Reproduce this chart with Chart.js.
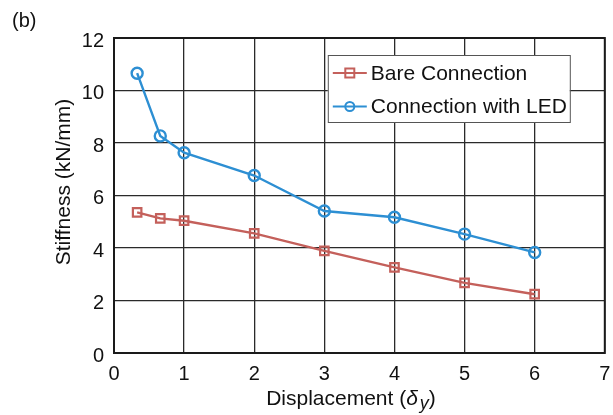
<!DOCTYPE html>
<html>
<head>
<meta charset="utf-8">
<script src="https://cdn.jsdelivr.net/npm/chart.js@4/dist/chart.umd.min.js"></script>
<style>
  html, body { margin: 0; padding: 0; background: #fff; }
  #wrap { width: 613px; height: 415px; position: relative; }
</style>
</head>
<body>
<div id="wrap"><canvas id="c" width="613" height="415"></canvas></div>
<script>
const displacement = [0.33, 0.66, 1.0, 2.0, 3.0, 4.0, 5.0, 6.0];
const bareConnection = [5.36, 5.13, 5.04, 4.56, 3.89, 3.26, 2.67, 2.24];
const connectionWithLED = [10.66, 8.27, 7.63, 6.76, 5.41, 5.17, 4.53, 3.83];
const seriesNames = ['Bare Connection', 'Connection with LED'];
const xTicks = [0, 1, 2, 3, 4, 5, 6, 7];
const yTicks = [0, 2, 4, 6, 8, 10, 12];

const RED = '#c4605b';
const BLUE = '#2d8fd3';
const FONT = '"Liberation Sans", Arial, Helvetica, sans-serif';
const FS = 20;
const FT = 21;

function pts(xs, ys) { return xs.map((x, i) => ({ x: x, y: ys[i] })); }

const extras = {
  id: 'extras',
  afterDraw(chart) {
    const ctx = chart.ctx;
    const a = chart.chartArea;
    ctx.save();
    // frame
    ctx.strokeStyle = '#1a1a1a';
    ctx.lineWidth = 2;
    ctx.strokeRect(a.left, a.top, a.right - a.left, a.bottom - a.top);

    // legend
    const lx = a.right - 277, ly = a.top + 17, lw = 242, lh = 67;
    ctx.fillStyle = '#fff';
    ctx.fillRect(lx, ly, lw, lh);
    ctx.strokeStyle = '#555';
    ctx.lineWidth = 1;
    ctx.strokeRect(lx + 0.5, ly + 0.5, lw, lh);
    const rows = [
      { name: seriesNames[0], color: RED, style: 'rect' },
      { name: seriesNames[1], color: BLUE, style: 'circle' }
    ];
    rows.forEach((r, i) => {
      const cy = ly + 18 + i * 33.5;
      ctx.strokeStyle = r.color;
      ctx.lineWidth = 2.2;
      ctx.beginPath();
      ctx.moveTo(lx + 5, cy);
      ctx.lineTo(lx + 39, cy);
      ctx.stroke();
      ctx.lineWidth = 2;
      const mx = lx + 22;
      if (r.style === 'rect') {
        ctx.strokeRect(mx - 4.5, cy - 4.5, 9, 9);
      } else {
        ctx.beginPath();
        ctx.arc(mx, cy, 4.5, 0, Math.PI * 2);
        ctx.stroke();
      }
      ctx.fillStyle = '#111';
      ctx.font = FT + 'px ' + FONT;
      ctx.textAlign = 'left';
      ctx.textBaseline = 'middle';
      ctx.fillText(r.name, lx + 43, cy + 1);
    });

    // panel label
    ctx.fillStyle = '#111';
    ctx.font = FS + 'px ' + FONT;
    ctx.textAlign = 'left';
    ctx.textBaseline = 'middle';
    ctx.fillText('(b)', 12, 21);

    // y title
    ctx.save();
    ctx.font = FT + 'px ' + FONT;
    ctx.translate(64, 182);
    ctx.rotate(-Math.PI / 2);
    ctx.textAlign = 'center';
    ctx.textBaseline = 'middle';
    ctx.fillText('Stiffness (kN/mm)', 0, 0);
    ctx.restore();

    // x title with italic delta and subscript y
    const base = 405;
    const p1 = 'Displacement (';
    const p2 = '\u03b4';
    const p3 = 'y';
    const p4 = ')';
    ctx.textBaseline = 'alphabetic';
    ctx.font = FT + 'px ' + FONT;
    const w1 = ctx.measureText(p1).width;
    const w4 = ctx.measureText(p4).width;
    ctx.font = 'italic ' + FT + 'px ' + FONT;
    const w2 = ctx.measureText(p2).width;
    ctx.font = 'italic 18px ' + FONT;
    const w3 = ctx.measureText(p3).width;
    const total = w1 + w2 + 2 + w3 + w4;
    let x = 351 - total / 2;
    ctx.textAlign = 'left';
    ctx.font = FT + 'px ' + FONT;
    ctx.fillText(p1, x, base); x += w1;
    ctx.font = 'italic ' + FT + 'px ' + FONT;
    ctx.fillText(p2, x, base); x += w2 + 2;
    ctx.font = 'italic 18px ' + FONT;
    ctx.fillText(p3, x, base + 4); x += w3;
    ctx.font = FT + 'px ' + FONT;
    ctx.fillText(p4, x, base);
    ctx.restore();
  }
};

new Chart(document.getElementById('c'), {
  type: 'scatter',
  data: {
    datasets: [
      {
        label: seriesNames[0],
        data: pts(displacement, bareConnection),
        showLine: true,
        borderColor: RED,
        backgroundColor: 'rgba(0,0,0,0)',
        borderWidth: 2.4,
        pointStyle: 'rect',
        pointRadius: 6,
        pointBorderWidth: 2.2,
        pointBorderColor: RED,
        pointBackgroundColor: 'rgba(0,0,0,0)'
      },
      {
        label: seriesNames[1],
        data: pts(displacement, connectionWithLED),
        showLine: true,
        borderColor: BLUE,
        backgroundColor: 'rgba(0,0,0,0)',
        borderWidth: 2.4,
        pointStyle: 'circle',
        pointRadius: 5.5,
        pointBorderWidth: 2.4,
        pointBorderColor: BLUE,
        pointBackgroundColor: 'rgba(0,0,0,0)'
      }
    ]
  },
  options: {
    responsive: false,
    animation: false,
    devicePixelRatio: 1,
    layout: { padding: { top: 38, right: 6, left: 0, bottom: 0 } },
    plugins: { legend: { display: false }, tooltip: { enabled: false } },
    scales: {
      x: {
        type: 'linear',
        min: 0, max: 7,
        afterBuildTicks(s) { s.ticks = xTicks.map(v => ({ value: v })); },
        afterFit(s) { s.height = 62; s.paddingLeft = 0; s.paddingRight = 0; },
        grid: { color: '#2a2a2a', lineWidth: 1.3, drawTicks: false },
        border: { display: false },
        ticks: { font: { family: FONT, size: FS }, color: '#111', padding: 9, maxRotation: 0 }
      },
      y: {
        type: 'linear',
        min: 0, max: 12,
        afterBuildTicks(s) { s.ticks = yTicks.map(v => ({ value: v })); },
        afterFit(s) { s.width = 114; s.paddingTop = 0; s.paddingBottom = 0; },
        grid: { color: '#2a2a2a', lineWidth: 1.3, drawTicks: false },
        border: { display: false },
        ticks: { font: { family: FONT, size: FS }, color: '#111', padding: 10, labelOffset: 3 }
      }
    }
  },
  plugins: [extras]
});
</script>
</body>
</html>
